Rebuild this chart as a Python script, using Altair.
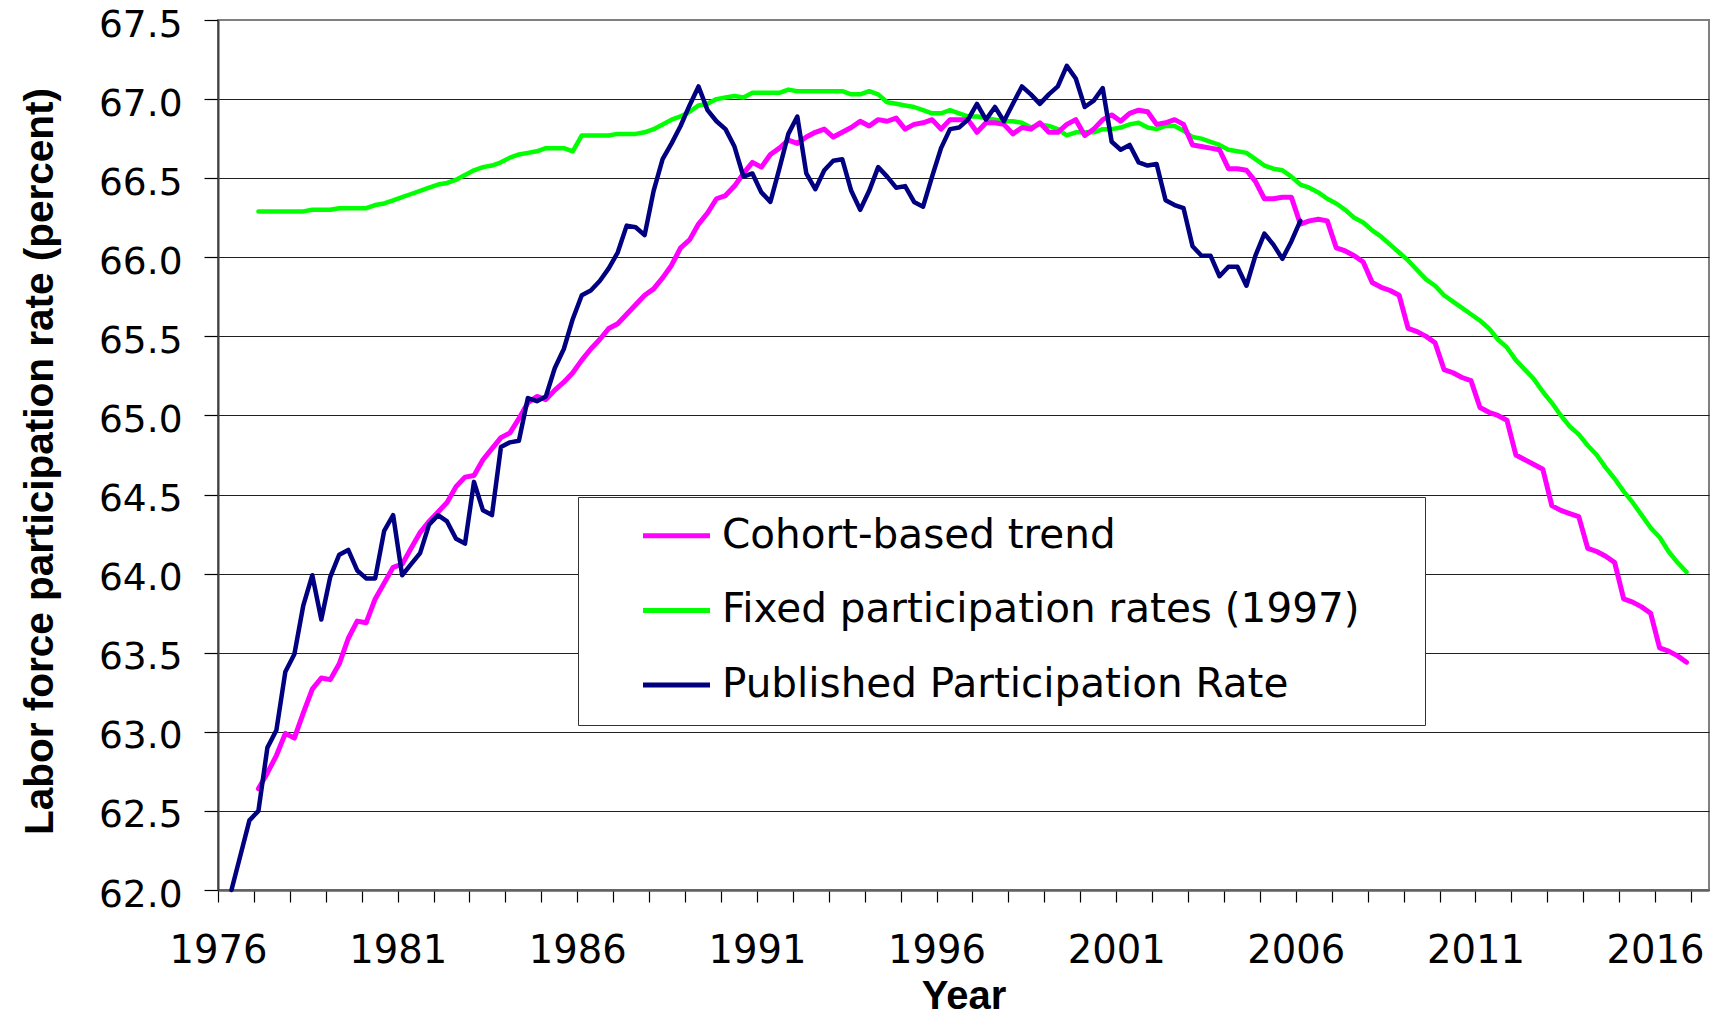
import altair as alt
import pandas as pd

# ---------------- data ----------------
SERIES = ["Cohort-based trend", "Fixed participation rates (1997)", "Published Participation Rate"]
COLORS = ["#FF00FF", "#00FF00", "#000080"]

# first quarter of each series (year, quarter); one value per quarter
PUBLISHED_START = (1976, 2)
TREND_START = (1977, 1)

published = [
    62.00, 62.22, 62.44, 62.50, 62.90, 63.01, 63.38, 63.49, 63.80, 63.99,
    63.71, 63.98, 64.12, 64.15, 64.02, 63.97, 63.97, 64.27, 64.37, 63.99,
    64.06, 64.13, 64.31, 64.37, 64.33, 64.22, 64.19, 64.58, 64.40, 64.37,
    64.80, 64.83, 64.84, 65.11, 65.09, 65.12, 65.30, 65.42, 65.61, 65.76,
    65.79, 65.85, 65.93, 66.03, 66.20, 66.19, 66.14, 66.42, 66.62, 66.72,
    66.83, 66.96, 67.08, 66.93, 66.86, 66.81, 66.70, 66.51, 66.53, 66.41,
    66.35, 66.56, 66.78, 66.89, 66.53, 66.43, 66.55, 66.61, 66.62, 66.42,
    66.30, 66.42, 66.57, 66.51, 66.44, 66.45, 66.35, 66.32, 66.51, 66.69,
    66.81, 66.82, 66.87, 66.97, 66.87, 66.95, 66.86, 66.97, 67.08, 67.03,
    66.97, 67.03, 67.08, 67.21, 67.13, 66.95, 66.99, 67.07, 66.73, 66.68,
    66.71, 66.60, 66.58, 66.59, 66.36, 66.33, 66.31, 66.07, 66.01, 66.01,
    65.88, 65.94, 65.94, 65.82, 66.01, 66.15, 66.08, 65.99, 66.10, 66.23,
]

cohort = [
    62.64, 62.74, 62.85, 62.99, 62.96, 63.12, 63.27, 63.34, 63.33, 63.43,
    63.59, 63.70, 63.69, 63.84, 63.94, 64.04, 64.06, 64.16, 64.26, 64.33,
    64.39, 64.45, 64.55, 64.61, 64.62, 64.72, 64.79, 64.86, 64.89, 64.98,
    65.08, 65.12, 65.10, 65.16, 65.21, 65.27, 65.35, 65.42, 65.48, 65.55,
    65.58, 65.64, 65.70, 65.76, 65.80, 65.87, 65.95, 66.06, 66.11, 66.21,
    66.28, 66.37, 66.39, 66.45, 66.53, 66.60, 66.57, 66.65, 66.69, 66.74,
    66.72, 66.76, 66.79, 66.81, 66.76, 66.79, 66.82, 66.86, 66.83, 66.87,
    66.86, 66.88, 66.81, 66.84, 66.85, 66.87, 66.81, 66.87, 66.87, 66.87,
    66.79, 66.85, 66.85, 66.84, 66.78, 66.82, 66.81, 66.85, 66.79, 66.79,
    66.84, 66.87, 66.77, 66.81, 66.87, 66.90, 66.86, 66.91, 66.93, 66.92,
    66.84, 66.85, 66.87, 66.84, 66.71, 66.70, 66.69, 66.68, 66.56, 66.56,
    66.55, 66.48, 66.37, 66.37, 66.38, 66.38, 66.21, 66.23, 66.24, 66.23,
    66.06, 66.04, 66.01, 65.97, 65.84, 65.81, 65.79, 65.76, 65.55, 65.53,
    65.50, 65.46, 65.29, 65.27, 65.24, 65.22, 65.05, 65.02, 65.00, 64.97,
    64.75, 64.72, 64.69, 64.66, 64.43, 64.40, 64.38, 64.36, 64.16, 64.14,
    64.11, 64.07, 63.84, 63.82, 63.79, 63.75, 63.53, 63.51, 63.48, 63.44,
]

fixed = [
    66.29, 66.29, 66.29, 66.29, 66.29, 66.29, 66.30, 66.30, 66.30, 66.31,
    66.31, 66.31, 66.31, 66.33, 66.34, 66.36, 66.38, 66.40, 66.42, 66.44,
    66.46, 66.47, 66.49, 66.52, 66.55, 66.57, 66.58, 66.60, 66.63, 66.65,
    66.66, 66.67, 66.69, 66.69, 66.69, 66.67, 66.77, 66.77, 66.77, 66.77,
    66.78, 66.78, 66.78, 66.79, 66.81, 66.84, 66.87, 66.89, 66.92, 66.96,
    66.97, 67.00, 67.01, 67.02, 67.01, 67.04, 67.04, 67.04, 67.04, 67.06,
    67.05, 67.05, 67.05, 67.05, 67.05, 67.05, 67.03, 67.03, 67.05, 67.03,
    66.98, 66.97, 66.96, 66.95, 66.93, 66.91, 66.91, 66.93, 66.91, 66.89,
    66.89, 66.88, 66.87, 66.86, 66.86, 66.85, 66.82, 66.84, 66.83, 66.81,
    66.77, 66.79, 66.79, 66.79, 66.81, 66.81, 66.82, 66.84, 66.85, 66.82,
    66.81, 66.83, 66.83, 66.80, 66.76, 66.75, 66.73, 66.71, 66.68, 66.67,
    66.66, 66.62, 66.58, 66.56, 66.55, 66.51, 66.46, 66.44, 66.41, 66.37,
    66.34, 66.30, 66.25, 66.22, 66.17, 66.13, 66.08, 66.03, 65.98, 65.92,
    65.86, 65.82, 65.76, 65.72, 65.68, 65.64, 65.60, 65.55, 65.48, 65.43,
    65.35, 65.29, 65.23, 65.15, 65.08, 65.00, 64.93, 64.88, 64.81, 64.75,
    64.67, 64.60, 64.52, 64.45, 64.37, 64.29, 64.23, 64.14, 64.07, 64.01,
]

Y_TICKS = [62.0, 62.5, 63.0, 63.5, 64.0, 64.5, 65.0, 65.5, 66.0, 66.5, 67.0, 67.5]
X_TICKS = list(range(1976, 2018))
X_DOMAIN = [1976, 2017.5]
Y_DOMAIN = [62.0, 67.5]


def quarter_positions(start, n):
    """Centre of each quarter on a year axis (categories, not values)."""
    year, q = start
    out = []
    for _ in range(n):
        out.append(year + (q - 1) / 4 + 0.125)
        q += 1
        if q == 5:
            q = 1
            year += 1
    return out


rows = []
for name, start, vals in [
    (SERIES[0], TREND_START, cohort),
    (SERIES[1], TREND_START, fixed),
    (SERIES[2], PUBLISHED_START, published),
]:
    for t, v in zip(quarter_positions(start, len(vals)), vals):
        rows.append({"series": name, "t": t, "value": v})
df = pd.DataFrame(rows)

# ---------------- chart ----------------
# trailing blank room inside the legend box (kept by a zero-width end char)
LEGEND_TAIL = "\u00a0\u00a0\u00a0\u2009\u200b"

legend = alt.Legend(
    title=None,
    orient="none",
    legendX=360,
    legendY=477,
    padding=18.45,
    symbolType="M-2,0H2",
    symbolSize=1122,
    symbolStrokeWidth=5,
    symbolOffset=59.8,
    labelOffset=25.2,
    labelFont="DejaVu Sans",
    labelFontSize=40.5,
    labelColor="#000000",
    labelLimit=2000,
    rowPadding=33.7,
    strokeColor="#333333",
    fillColor="#FFFFFF",
    cornerRadius=0,
    labelExpr="datum.label + '" + LEGEND_TAIL + "'",
)

x_enc = alt.X(
    "t:Q",
    scale=alt.Scale(domain=X_DOMAIN, nice=False, zero=False),
    axis=alt.Axis(
        values=X_TICKS,
        format="d",
        labelExpr="(datum.value - 1976) % 5 == 0 ? datum.label : ''",
        title="Year",
        titleFont="Liberation Sans",
        titleFontSize=40,
        titleFontWeight="bold",
        titleColor="#000000",
        titleX=745.5,
        titleY=118.5,
        titleAlign="center",
        titleBaseline="alphabetic",
        labelFont="DejaVu Sans",
        labelFontSize=38.5,
        labelColor="#000000",
        labelPadding=30,
        labelFlush=False,
        labelOverlap=False,
        labelBound=False,
        tickSize=12,
        tickColor="#000000",
        tickWidth=1.2,
        domainColor="#606060",
        domainWidth=2.5,
        grid=False,
    ),
)

y_enc = alt.Y(
    "value:Q",
    scale=alt.Scale(domain=Y_DOMAIN, nice=False, zero=False),
    axis=alt.Axis(
        values=Y_TICKS,
        format=".1f",
        title="Labor force participation rate (percent)",
        titleFont="Liberation Sans",
        titleFontSize=40.5,
        titleFontWeight="bold",
        titleColor="#000000",
        titleAngle=270,
        titleX=-166,
        titleY=441,
        titleAlign="center",
        titleBaseline="alphabetic",
        labelFont="DejaVu Sans",
        labelFontSize=37.5,
        labelColor="#000000",
        labelPadding=22,
        labelOffset=5,
        labelFlush=False,
        labelOverlap=False,
        tickSize=14,
        tickColor="#000000",
        tickWidth=1.2,
        domainColor="#404040",
        domainWidth=2,
        grid=True,
        gridColor={"condition": {"test": "datum.value >= 67.5", "value": "#808080"}, "value": "#202020"},
        gridWidth=1.2,
    ),
)

color_enc = alt.Color("series:N", scale=alt.Scale(domain=SERIES, range=COLORS), legend=legend)

base = alt.Chart(df).encode(x=x_enc, y=y_enc, color=color_enc)

green = base.transform_filter(alt.datum.series == SERIES[1]).mark_line(
    strokeWidth=4.5, strokeJoin="round", strokeCap="round")
pink = base.transform_filter(alt.datum.series == SERIES[0]).mark_line(
    strokeWidth=5, strokeJoin="round", strokeCap="round")
blue = base.transform_filter(alt.datum.series == SERIES[2]).mark_line(
    strokeWidth=4.5, strokeJoin="round", strokeCap="round")

chart = (
    alt.layer(green, pink, blue)
    .properties(
        width=1491,
        height=870,
        padding={"left": 210, "top": 12, "right": 5, "bottom": 128},
        autosize=alt.AutoSizeParams(type="none"),
    )
    .configure(background="#FFFFFF", font="DejaVu Sans")
    .configure_view(stroke="#808080", strokeWidth=2)
    .configure_legend(symbolStrokeWidth=5)
)

chart.save("out.html", embed_options={"renderer": "svg", "actions": False})
